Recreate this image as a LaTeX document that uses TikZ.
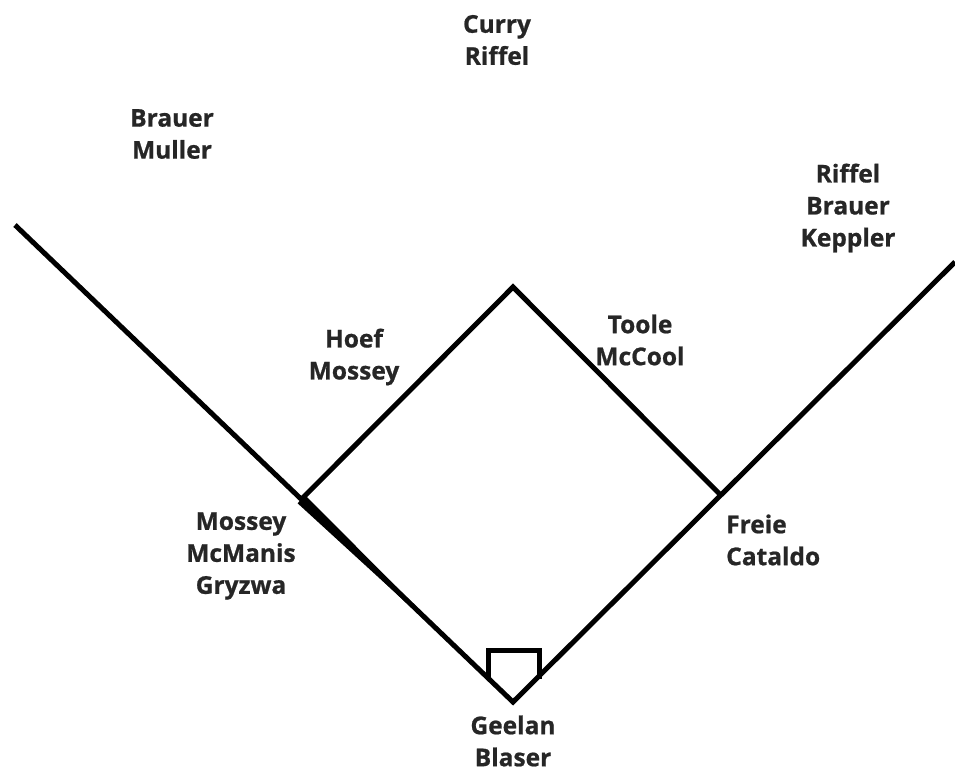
\documentclass[tikz,border=0pt]{standalone}
\usepackage{fontspec}
\usetikzlibrary{calc}
\setmainfont{Open Sans}[FakeBold=0.8]
\begin{document}
\begin{tikzpicture}[x=1pt,y=-1pt,
  fieldline/.style={line width=5pt,line join=miter,black},
  lbl/.style={font=\fontsize{24.5}{32}\selectfont\bfseries,text=black!85,align=center,inner sep=0pt}]
\useasboundingbox (0,0) rectangle (955,772);
% bases
\coordinate (home) at (513,702);
\coordinate (lfend) at (15,225);
\coordinate (rfend) at (955,262);
\coordinate (third) at ($(lfend)!0.575!(home)$);
\coordinate (second) at (513,287);
\coordinate (first) at ($(home)!0.47!(rfend)$);
% foul lines
\draw[fieldline] (lfend) -- (home) -- (rfend);
% diamond
\draw[fieldline] (third) -- (second) -- (first);
% thick wedge near third base
\coordinate (wend) at ($(lfend)!0.93!(home)$);
\fill ($(third)!5.5pt!90:(home)$) -- ($(third)!5.5pt!-90:(home)$) -- (wend) -- cycle;
% home plate
\draw[fieldline] (488,677) -- (488,650) -- (539,650) -- (539,679);
% labels
\node[lbl] (cf) at (497,40) {Curry\\Riffel};
\node[lbl] (lf) at (172,134) {Brauer\\Muller};
\node[lbl] (rf) at (848,208) {Riffel\\Brauer\\Keppler};
\node[lbl] (ss) at (354,357) {Hoef\\Mossey};
\node[lbl] (2b) at (640,340) {Toole\\McCool};
\node[lbl] (3b) at (241,556) {Mossey\\McManis\\Gryzwa};
\node[lbl,align=left,anchor=west] (1b) at (726,540) {Freie\\Cataldo};
\node[lbl] (c) at (513,741) {Geelan\\Blaser};
\end{tikzpicture}
\end{document}
